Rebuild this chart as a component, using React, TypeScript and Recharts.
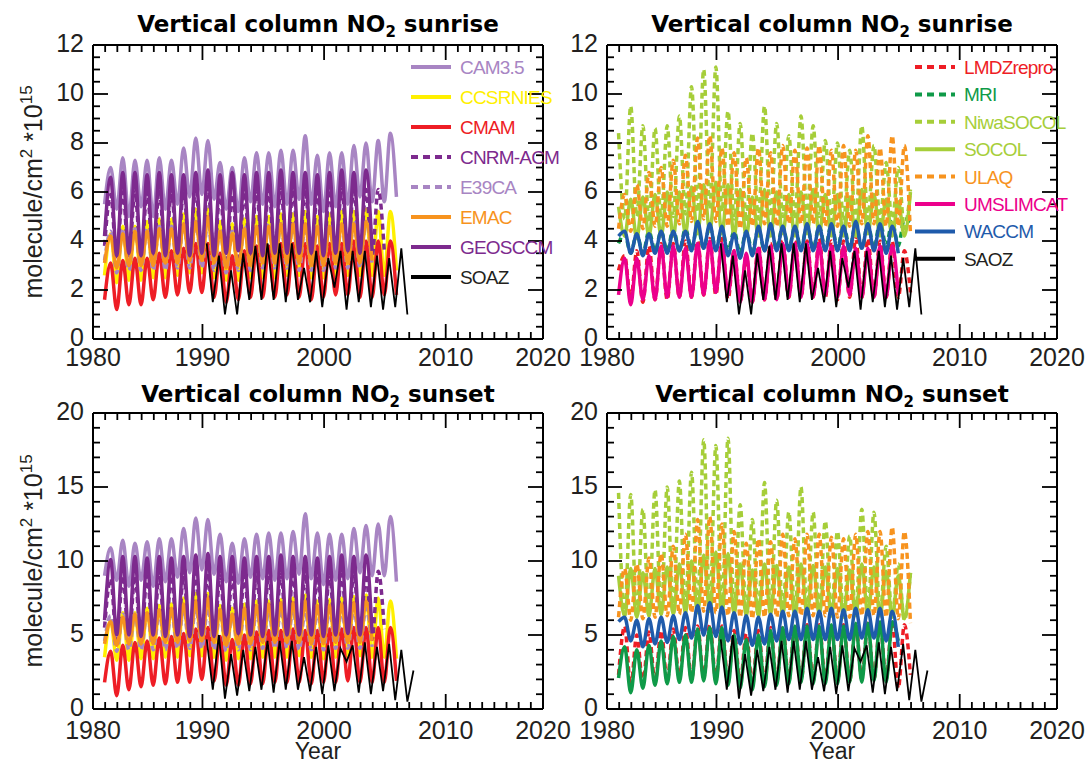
import React from 'react';
import { LineChart, Line, XAxis, YAxis } from 'recharts';

// half-yearly samples: models start 1981.95, SAOZ starts 1990.35
const MODEL_START = 1981.95;
const SAOZ_START = 1990.35;
const STEP = 0.5;

const xMajorTicks = [1981, 1990, 2000, 2010, 2018];
const xTickLabels = ['1980', '1990', '2000', '2010', '2020'];

// ---- sunrise, group 1
const camRise = [5.5, 7.0, 5.3, 7.4, 5.0, 7.3, 5.4, 7.3, 5.0, 7.4, 5.3, 7.3, 5.5, 7.8, 5.8, 8.2, 5.9, 8.1, 5.7, 7.2, 5.3, 7.0, 5.2, 7.4, 5.6, 7.6, 5.5, 7.6, 5.4, 7.7, 5.5, 7.7, 5.7, 8.3, 5.5, 7.5, 5.2, 7.6, 5.4, 7.6, 5.5, 7.9, 5.8, 8.0, 5.6, 8.1, 5.6, 8.4, 5.8];
const ccsrRise = [2.6, 4.3, 2.3, 4.6, 2.4, 4.6, 2.4, 4.8, 2.5, 4.9, 2.5, 4.9, 2.6, 5.1, 2.7, 5.3, 2.7, 5.3, 2.5, 4.8, 2.4, 4.7, 2.4, 4.9, 2.5, 5.0, 2.5, 5.0, 2.5, 5.1, 2.6, 5.1, 2.6, 5.2, 2.5, 5.0, 2.5, 5.1, 2.6, 5.2, 2.6, 5.2, 2.6, 5.3, 2.6, 5.2, 2.6, 5.2, 2.8];
const cmamRise = [1.6, 3.1, 1.2, 3.2, 1.4, 3.3, 1.4, 3.3, 1.6, 3.5, 1.7, 3.6, 1.8, 3.7, 1.9, 3.9, 1.9, 3.9, 1.7, 3.5, 1.5, 3.4, 1.6, 3.6, 1.7, 3.8, 1.7, 3.8, 1.7, 3.9, 1.8, 3.9, 1.7, 3.9, 1.6, 3.8, 1.7, 3.9, 1.8, 3.9, 1.8, 4.0, 1.7, 4.0, 1.7, 4.0, 1.8, 4.0, 1.8];
const cnrmRise = [3.8, 5.9, 3.3, 6.0, 3.3, 6.0, 3.2, 6.0, 3.3, 6.1, 3.3, 6.0, 3.3, 6.1, 3.4, 6.2, 3.4, 6.2, 3.3, 6.0, 3.2, 5.9, 3.3, 6.0, 3.3, 6.1, 3.3, 6.1, 3.4, 6.1, 3.4, 6.1, 3.3, 6.1, 3.3, 6.0, 3.3, 6.1, 3.4, 6.1, 3.4, 6.2, 3.4, 6.1, 3.4, 6.1, 3.6];
const e39Rise = [3.2, 4.4, 2.7, 4.5, 2.8, 4.5, 2.8, 4.5, 2.8, 4.6, 2.8, 4.6, 2.9, 4.7, 2.9, 4.8, 2.9, 4.8, 2.8, 4.5, 2.7, 4.4, 2.8, 4.6, 2.8, 4.6, 2.9, 4.7, 2.9, 4.7, 2.9, 4.7, 2.8, 4.6, 2.8, 4.6, 2.8, 4.7, 2.9, 4.7, 2.9, 4.8, 2.9, 4.8, 3.0];
const emacRise = [3.1, 4.2, 2.9, 4.3, 3.0, 4.4, 3.0, 4.4, 3.0, 4.5, 3.1, 4.5, 3.1, 4.7, 3.2, 4.8, 3.2, 5.0, 3.1, 4.4, 2.9, 4.3, 3.0, 4.5, 3.0, 4.6, 3.1, 4.6, 3.1, 4.7, 3.1, 4.7, 3.1, 4.7, 3.0, 4.6, 3.0, 4.6, 3.1, 4.7, 3.1, 4.7, 3.1, 4.8, 3.2];
const geosRise = [4.2, 6.6, 3.4, 6.8, 3.5, 6.8, 3.4, 6.7, 3.5, 6.8, 3.4, 6.7, 3.5, 6.7, 3.4, 6.8, 3.5, 6.9, 3.4, 6.7, 3.5, 6.8, 3.6, 6.7, 3.5, 6.8, 3.4, 6.8, 3.5, 6.9, 3.5, 6.8, 3.5, 6.8, 3.5, 6.7, 3.4, 6.8, 3.5, 6.9, 3.6, 6.8, 3.5, 6.9, 3.6];
const saozRise = [3.9, 1.5, 3.4, 1.0, 2.8, 1.0, 3.5, 1.6, 3.8, 1.6, 3.9, 1.6, 3.9, 1.5, 3.9, 1.6, 2.9, 1.5, 3.6, 1.3, 3.3, 2.1, 3.6, 1.2, 3.6, 1.5, 3.6, 1.3, 3.4, 1.2, 3.3, 1.3, 3.7, 1.0];

// ---- sunrise, group 2
const lmdzRise = [2.8, 3.4, 1.6, 3.6, 1.5, 3.8, 1.6, 3.9, 1.6, 3.9, 1.7, 4.0, 1.7, 4.0, 1.8, 4.1, 1.8, 4.1, 1.6, 3.6, 1.5, 3.4, 1.5, 3.8, 1.6, 3.9, 1.6, 4.0, 1.7, 4.0, 1.7, 4.0, 1.7, 4.1, 1.7, 4.0, 1.6, 4.0, 1.7, 4.1, 1.7, 4.1, 1.7, 4.0, 1.7, 4.0, 1.7, 3.6, 1.9];
const mriRise = [3.9, 4.3, 3.5, 4.3, 3.5, 4.4, 3.6, 4.4, 3.6, 4.5, 3.6, 4.5, 3.7, 4.6, 3.7, 4.6, 3.7, 4.5, 3.6, 4.4, 3.5, 4.4, 3.6, 4.5, 3.6, 4.6, 3.7, 4.6, 3.7, 4.6, 3.7, 4.6, 3.7, 4.6, 3.7, 4.7, 3.7, 4.7, 3.7, 4.7, 3.7, 4.7, 3.7, 4.8, 3.8, 4.8, 3.8, 4.9, 4.8];
const niwaRise = [8.4, 4.9, 9.5, 5.0, 8.7, 4.8, 8.6, 4.9, 8.7, 5.0, 9.1, 5.1, 10.3, 5.2, 11.0, 5.3, 11.1, 5.2, 9.3, 4.9, 8.8, 4.8, 8.4, 4.9, 9.5, 5.0, 8.8, 5.0, 8.3, 4.9, 9.1, 5.0, 8.7, 5.0, 8.1, 4.8, 8.0, 4.8, 7.7, 4.8, 8.7, 4.9, 7.9, 4.8, 7.2, 4.7, 7.0, 4.5, 6.1];
const socolRise = [5.4, 4.2, 5.7, 4.1, 5.8, 4.2, 5.9, 4.2, 6.0, 4.2, 6.0, 4.3, 6.2, 4.3, 6.3, 4.4, 6.4, 4.3, 6.3, 4.2, 6.1, 4.2, 5.8, 4.2, 6.1, 4.2, 6.0, 4.3, 5.9, 4.2, 6.0, 4.3, 6.1, 4.3, 5.9, 4.2, 5.9, 4.2, 5.8, 4.2, 6.1, 4.3, 5.9, 4.2, 5.7, 4.2, 5.6, 4.2, 6.0];
const ulaqRise = [4.5, 5.9, 4.4, 6.3, 4.5, 6.8, 4.6, 7.0, 4.6, 7.3, 4.7, 7.5, 4.8, 8.2, 4.9, 8.3, 4.8, 7.8, 4.6, 7.6, 4.5, 7.4, 4.6, 7.8, 4.7, 7.6, 4.6, 7.9, 4.7, 7.7, 4.7, 7.8, 4.7, 7.9, 4.6, 7.7, 4.6, 7.9, 4.6, 7.7, 4.7, 8.3, 4.7, 7.8, 4.6, 8.3, 4.6, 7.9, 4.3];
const umslimRise = [1.8, 3.3, 1.4, 3.3, 1.6, 3.4, 1.6, 3.8, 1.7, 3.8, 1.7, 3.7, 1.7, 3.9, 1.8, 4.0, 1.9, 3.9, 1.8, 3.6, 1.5, 3.5, 1.5, 3.7, 1.6, 3.8, 1.6, 3.9, 1.7, 3.9, 1.7, 3.9, 1.7, 3.9, 1.8, 3.8, 1.7, 3.8, 1.8, 3.7, 1.7, 3.7, 1.7, 3.8, 1.7, 3.8, 1.8];
const waccmRise = [4.2, 4.4, 3.5, 4.3, 3.4, 4.3, 3.5, 4.4, 3.5, 4.4, 3.6, 4.4, 3.6, 4.8, 3.7, 4.7, 3.6, 4.6, 3.4, 4.3, 3.3, 4.4, 3.4, 4.6, 3.6, 4.7, 3.6, 4.6, 3.6, 4.6, 3.6, 4.7, 3.6, 4.6, 3.6, 4.7, 3.6, 4.6, 3.6, 4.8, 3.7, 4.7, 3.6, 4.7, 3.5, 4.6, 3.5];

// ---- sunset, group 1
const camSet = [9.0, 10.9, 8.7, 11.4, 8.3, 11.2, 8.7, 11.3, 8.3, 11.5, 8.6, 11.5, 8.9, 12.2, 9.2, 12.9, 9.4, 12.8, 9.1, 11.8, 8.6, 11.2, 8.5, 11.5, 8.9, 11.8, 8.8, 11.9, 8.7, 11.9, 8.8, 12.0, 9.1, 13.2, 8.8, 11.9, 8.4, 11.8, 8.7, 11.8, 8.8, 12.2, 9.2, 12.4, 9.0, 12.5, 9.0, 13.0, 8.6];
const ccsrSet = [3.5, 6.0, 3.3, 6.5, 3.3, 6.5, 3.4, 6.8, 3.4, 7.0, 3.5, 7.1, 3.5, 7.5, 3.6, 7.8, 3.6, 7.8, 3.5, 7.0, 3.3, 6.8, 3.4, 7.1, 3.4, 7.3, 3.5, 7.3, 3.5, 7.4, 3.5, 7.5, 3.6, 7.7, 3.5, 7.3, 3.4, 7.4, 3.5, 7.5, 3.5, 7.6, 3.6, 7.7, 3.5, 7.5, 3.5, 7.3, 3.4];
const cmamSet = [1.8, 3.9, 0.9, 4.3, 1.3, 4.5, 1.5, 4.6, 1.6, 4.8, 1.7, 4.9, 1.8, 5.1, 1.8, 5.4, 2.0, 5.5, 1.9, 4.9, 1.6, 4.7, 1.6, 5.0, 1.7, 5.2, 1.7, 5.3, 1.8, 5.3, 1.8, 5.4, 1.8, 5.3, 1.7, 5.3, 1.8, 5.4, 1.8, 5.4, 1.9, 5.5, 1.8, 5.5, 1.8, 5.5, 1.8, 5.5, 1.9];
const cnrmSet = [5.5, 8.8, 4.6, 9.0, 4.6, 9.0, 4.5, 9.0, 4.6, 9.1, 4.6, 9.0, 4.6, 9.1, 4.7, 9.2, 4.7, 9.2, 4.6, 9.0, 4.5, 8.9, 4.6, 9.0, 4.6, 9.1, 4.6, 9.1, 4.7, 9.1, 4.7, 9.1, 4.6, 9.1, 4.6, 9.0, 4.6, 9.1, 4.7, 9.1, 4.7, 9.2, 4.7, 9.1, 4.7, 9.3, 5.4];
const e39Set = [4.6, 6.3, 3.9, 6.4, 4.0, 6.4, 4.0, 6.5, 4.0, 6.5, 4.0, 6.6, 4.1, 6.7, 4.1, 6.8, 4.1, 6.8, 4.0, 6.5, 3.9, 6.4, 4.0, 6.5, 4.0, 6.6, 4.1, 6.6, 4.1, 6.7, 4.1, 6.7, 4.0, 6.6, 4.0, 6.6, 4.0, 6.7, 4.1, 6.7, 4.1, 6.8, 4.1, 6.8, 4.2];
const emacSet = [4.4, 5.9, 4.3, 6.2, 4.4, 6.4, 4.4, 6.5, 4.4, 6.7, 4.5, 6.8, 4.5, 7.1, 4.6, 7.3, 4.6, 7.5, 4.5, 6.7, 4.3, 6.4, 4.4, 6.8, 4.4, 7.0, 4.5, 7.1, 4.5, 7.2, 4.5, 7.2, 4.5, 7.3, 4.4, 7.0, 4.4, 7.0, 4.5, 7.1, 4.5, 7.2, 4.5, 7.3, 4.6];
const geosSet = [6.0, 10.1, 5.0, 10.3, 5.0, 10.3, 4.9, 10.2, 5.0, 10.3, 4.9, 10.2, 5.0, 10.3, 4.9, 10.4, 5.0, 10.5, 4.9, 10.3, 5.0, 10.3, 5.1, 10.2, 5.0, 10.3, 4.9, 10.3, 5.0, 10.4, 5.0, 10.3, 5.0, 10.3, 5.0, 10.2, 4.9, 10.3, 5.0, 10.4, 5.1, 10.3, 5.0, 10.4, 5.1];
const saozSet = [4.7, 1.3, 5.0, 0.7, 3.7, 0.9, 4.0, 1.2, 4.2, 1.3, 4.6, 1.1, 4.6, 1.3, 4.6, 1.3, 3.5, 1.2, 4.2, 1.0, 4.3, 1.2, 4.1, 3.2, 4.3, 1.1, 4.5, 1.0, 4.2, 1.2, 4.4, 0.6, 4.0, 0.5, 2.6];

// ---- sunset, group 2
const lmdzSet = [2.3, 5.6, 1.5, 5.0, 1.7, 5.2, 1.8, 5.3, 1.9, 5.4, 2.0, 5.5, 2.0, 5.6, 2.1, 5.7, 2.0, 5.6, 1.9, 5.3, 1.7, 5.1, 1.6, 5.3, 1.7, 5.5, 1.8, 5.6, 1.9, 5.7, 1.9, 5.7, 1.9, 5.7, 1.9, 5.7, 1.9, 5.7, 1.9, 5.8, 2.0, 5.8, 2.0, 5.8, 2.0, 5.9, 1.4, 5.7, 2.3];
const mriSet = [2.1, 4.2, 1.1, 4.0, 1.4, 4.3, 1.6, 4.6, 1.7, 4.9, 1.8, 5.0, 1.8, 5.4, 1.9, 5.5, 1.7, 5.5, 1.6, 5.0, 1.4, 4.7, 1.3, 5.0, 1.5, 5.3, 1.6, 5.5, 1.7, 5.6, 1.8, 5.6, 1.7, 5.6, 1.7, 5.7, 1.7, 5.6, 1.8, 5.8, 1.8, 5.8, 1.9, 5.9, 1.8, 5.9, 4.6];
const niwaSet = [14.6, 6.3, 14.5, 6.2, 13.5, 6.3, 14.8, 6.4, 15.0, 6.4, 15.4, 6.5, 16.0, 6.6, 18.2, 6.7, 17.8, 6.6, 18.3, 6.5, 13.8, 6.3, 12.8, 6.2, 15.3, 6.4, 14.1, 6.4, 13.3, 6.3, 15.0, 6.4, 13.3, 6.3, 12.7, 6.3, 12.0, 6.2, 11.7, 6.3, 13.5, 6.4, 13.3, 6.3, 11.0, 6.2, 9.8, 6.0, 9.2];
const socolSet = [9.0, 6.3, 9.5, 6.2, 9.2, 6.3, 9.5, 6.4, 9.6, 6.4, 9.8, 6.5, 10.0, 6.5, 10.4, 6.6, 10.6, 6.5, 10.5, 6.4, 9.8, 6.3, 9.4, 6.3, 9.8, 6.4, 9.7, 6.4, 9.6, 6.3, 9.8, 6.4, 9.7, 6.4, 9.6, 6.3, 9.5, 6.3, 9.4, 6.3, 9.8, 6.4, 9.6, 6.3, 9.3, 6.2, 9.0, 6.1, 9.2];
const ulaqSet = [6.2, 9.5, 6.0, 9.8, 6.1, 10.2, 6.2, 10.5, 6.3, 11.0, 6.4, 11.8, 6.5, 12.8, 6.6, 13.0, 6.5, 12.5, 6.3, 12.0, 6.2, 11.2, 6.1, 11.5, 6.2, 11.3, 6.2, 11.8, 6.3, 11.5, 6.3, 11.8, 6.3, 11.8, 6.3, 11.6, 6.2, 11.5, 6.2, 11.8, 6.3, 12.0, 6.3, 12.0, 6.2, 12.3, 6.1, 12.0, 5.8];
const waccmSet = [5.9, 6.2, 4.6, 6.0, 4.2, 6.1, 4.4, 6.2, 4.5, 6.3, 4.7, 6.5, 4.8, 7.0, 5.0, 7.2, 4.9, 6.9, 4.6, 6.5, 4.4, 6.3, 4.3, 6.2, 4.4, 6.4, 4.6, 6.6, 4.7, 6.6, 4.7, 6.8, 4.7, 6.6, 4.7, 6.8, 4.7, 6.7, 4.7, 6.8, 4.8, 6.7, 4.8, 6.8, 4.6, 6.6, 4.2];

const FONT = "'Liberation Sans', Arial, sans-serif";
const INK = '#231f20';
const W = 1091;
const H = 763;

const C = {
  cam: '#a885c3', ccsr: '#fff000', cmam: '#ee1d25', geos: '#7d2a8e', emac: '#f7931e',
  lmdz: '#ee1d25', mri: '#0f9a48', niwa: '#a6ce39', ulaq: '#f7931e', umslim: '#ec008c',
  waccm: '#1f5bab', obs: '#000000',
};

type Serie = { name: string; color: string; values: number[]; start?: number; dotted?: boolean; thin?: boolean };

const toPoints = (values: number[], start: number) =>
  values.map((y, i) => ({ x: +(start + i * STEP).toFixed(2), y }));

const seq = (from: number, to: number, step: number) =>
  Array.from({ length: Math.round((to - from) / step) + 1 }, (_, i) => +(from + i * step).toFixed(3));

const riseLeft: Serie[] = [
  { name: 'CAM3.5', color: C.cam, values: camRise },
  { name: 'CCSRNIES', color: C.ccsr, values: ccsrRise },
  { name: 'CMAM', color: C.cmam, values: cmamRise },
  { name: 'CNRM-ACM', color: C.geos, values: cnrmRise, dotted: true },
  { name: 'E39CA', color: C.cam, values: e39Rise, dotted: true },
  { name: 'EMAC', color: C.emac, values: emacRise },
  { name: 'GEOSCCM', color: C.geos, values: geosRise },
  { name: 'SOAZ', color: C.obs, values: saozRise, start: SAOZ_START, thin: true },
];

const riseRight: Serie[] = [
  { name: 'LMDZrepro', color: C.lmdz, values: lmdzRise, dotted: true },
  { name: 'MRI', color: C.mri, values: mriRise, dotted: true },
  { name: 'NiwaSOCOL', color: C.niwa, values: niwaRise, dotted: true },
  { name: 'SOCOL', color: C.niwa, values: socolRise },
  { name: 'ULAQ', color: C.ulaq, values: ulaqRise, dotted: true },
  { name: 'UMSLIMCAT', color: C.umslim, values: umslimRise },
  { name: 'WACCM', color: C.waccm, values: waccmRise },
  { name: 'SAOZ', color: C.obs, values: saozRise, start: SAOZ_START, thin: true },
];

const setLeft: Serie[] = [
  { name: 'CAM3.5', color: C.cam, values: camSet },
  { name: 'CCSRNIES', color: C.ccsr, values: ccsrSet },
  { name: 'CMAM', color: C.cmam, values: cmamSet },
  { name: 'CNRM-ACM', color: C.geos, values: cnrmSet, dotted: true },
  { name: 'E39CA', color: C.cam, values: e39Set, dotted: true },
  { name: 'EMAC', color: C.emac, values: emacSet },
  { name: 'GEOSCCM', color: C.geos, values: geosSet },
  { name: 'SOAZ', color: C.obs, values: saozSet, start: SAOZ_START, thin: true },
];

const setRight: Serie[] = [
  { name: 'LMDZrepro', color: C.lmdz, values: lmdzSet, dotted: true },
  { name: 'MRI', color: C.mri, values: mriSet },
  { name: 'NiwaSOCOL', color: C.niwa, values: niwaSet, dotted: true },
  { name: 'SOCOL', color: C.niwa, values: socolSet },
  { name: 'ULAQ', color: C.ulaq, values: ulaqSet, dotted: true },
  { name: 'WACCM', color: C.waccm, values: waccmSet },
  { name: 'SAOZ', color: C.obs, values: saozSet, start: SAOZ_START, thin: true },
];

const XTick = (props: any) => {
  const { x, y, payload, side, labelDy } = props;
  const idx = xMajorTicks.indexOf(payload.value);
  const len = idx >= 0 ? 15 : 7;
  const dir = side === 'bottom' ? -1 : 1;
  return (
    <g>
      <line x1={x} x2={x} y1={y} y2={y + dir * len} stroke="#000" strokeWidth={1.8} />
      {side === 'bottom' && idx >= 0 && (
        <text x={x} y={y + labelDy} textAnchor="middle" fontSize={25} fill={INK} fontFamily={FONT}>
          {xTickLabels[idx]}
        </text>
      )}
    </g>
  );
};

const YTick = (props: any) => {
  const { x, y, payload, side, major } = props;
  const v = payload.value;
  const isMajor = Math.abs(v / major - Math.round(v / major)) < 1e-6;
  const len = isMajor ? 15 : 7;
  const dir = side === 'left' ? 1 : -1;
  return (
    <g>
      <line x1={x} x2={x + dir * len} y1={y} y2={y} stroke="#000" strokeWidth={1.8} />
      {side === 'left' && isMajor && (
        <text x={x - 9} y={y + 7} textAnchor="end" fontSize={25} fill={INK} fontFamily={FONT}>
          {v}
        </text>
      )}
    </g>
  );
};

const xTicks = seq(1981, 2018, 1);
const axisLine = { stroke: '#000', strokeWidth: 2 };

function Panel({ box, yMax, yMajor, yMinor, series, labelDy }: any) {
  const yTicks = seq(0, yMax, yMinor);
  // every axis takes 1px, so the plot box lands exactly on box
  const margin = { top: box.y0 - 1, bottom: H - box.y1 - 1, left: box.x0 - 1, right: W - box.x1 - 1 };
  return (
    <div style={{ position: 'absolute', left: 0, top: 0 }}>
      <LineChart width={W} height={H} margin={margin}>
        <XAxis xAxisId="b" type="number" dataKey="x" domain={[1981, 2018]} allowDataOverflow ticks={xTicks}
          interval={0} height={1} tickSize={0} tickMargin={0} tickLine={false} axisLine={axisLine}
          tick={(p: any) => <XTick {...p} side="bottom" labelDy={labelDy} />} />
        <XAxis xAxisId="t" orientation="top" type="number" dataKey="x" domain={[1981, 2018]} allowDataOverflow ticks={xTicks}
          interval={0} height={1} tickSize={0} tickMargin={0} tickLine={false} axisLine={axisLine}
          tick={(p: any) => <XTick {...p} side="top" />} />
        <YAxis yAxisId="l" type="number" domain={[0, yMax]} allowDataOverflow ticks={yTicks}
          interval={0} width={1} tickSize={0} tickMargin={0} tickLine={false} axisLine={axisLine}
          tick={(p: any) => <YTick {...p} side="left" major={yMajor} />} />
        <YAxis yAxisId="r" orientation="right" type="number" domain={[0, yMax]} allowDataOverflow ticks={yTicks}
          interval={0} width={1} tickSize={0} tickMargin={0} tickLine={false} axisLine={axisLine}
          tick={(p: any) => <YTick {...p} side="right" major={yMajor} />} />
        {series.map((s: Serie) => (
          <Line
            key={s.name}
            xAxisId="b"
            yAxisId="l"
            data={toPoints(s.values, s.start ?? MODEL_START)}
            dataKey="y"
            type={s.thin ? 'linear' : 'monotone'}
            stroke={s.color}
            strokeWidth={s.thin ? 1.8 : 3.5}
            strokeDasharray={s.dotted ? '6 4' : undefined}
            dot={false}
            isAnimationActive={false}
          />
        ))}
      </LineChart>
    </div>
  );
}

function Legend({ items, x, y0, dy }: { items: Serie[]; x: number; y0: number; dy: number }) {
  return (
    <g>
      {items.map((s, i) => {
        const y = y0 + i * dy;
        return (
          <g key={s.name}>
            <line x1={x} x2={x + 40} y1={y} y2={y} stroke={s.color} strokeWidth={4}
              strokeDasharray={s.dotted ? '7 5' : undefined} />
            <text x={x + 49} y={y + 7} fontSize={19} letterSpacing={-0.8} fill={s.color === C.obs ? INK : s.color}
              fontFamily={FONT}>{s.name}</text>
          </g>
        );
      })}
    </g>
  );
}

const Title = ({ x, y, when }: { x: number; y: number; when: string }) => (
  <text x={x} y={y} textAnchor="middle" fontFamily="'DejaVu Sans', sans-serif" fontWeight="bold" fontSize={23} fill="#000">
    Vertical column NO<tspan fontSize={15} dy={5}>2</tspan><tspan dy={-5}>{` ${when}`}</tspan>
  </text>
);

const YLabel = ({ cy }: { cy: number }) => (
  <text transform={`translate(42,${cy}) rotate(-90)`} textAnchor="middle" fontSize={25} fill={INK} fontFamily={FONT}>
    molecule/cm<tspan fontSize={17} dy={-10}>2</tspan><tspan dy={10}> *10</tspan><tspan fontSize={17} dy={-10}>15</tspan>
  </text>
);

const BOX_TL = { x0: 93, x1: 543, y0: 45, y1: 339 };
const BOX_TR = { x0: 607, x1: 1057, y0: 45, y1: 339 };
const BOX_BL = { x0: 93, x1: 543, y0: 413, y1: 709 };
const BOX_BR = { x0: 607, x1: 1057, y0: 413, y1: 709 };

export default function App() {
  return (
    <div style={{ position: 'relative', width: W, height: H, background: '#fff', overflow: 'hidden' }}>
      <style>{'body{margin:0}'}</style>
      <Panel box={BOX_TL} yMax={12} yMajor={2} yMinor={0.5} series={riseLeft} labelDy={27} />
      <Panel box={BOX_TR} yMax={12} yMajor={2} yMinor={0.5} series={riseRight} labelDy={27} />
      <Panel box={BOX_BL} yMax={20} yMajor={5} yMinor={1} series={setLeft} labelDy={30} />
      <Panel box={BOX_BR} yMax={20} yMajor={5} yMinor={1} series={setRight} labelDy={30} />
      <svg width={W} height={H} style={{ position: 'absolute', left: 0, top: 0, pointerEvents: 'none' }}>
        <Title x={318} y={32} when="sunrise" />
        <Title x={832} y={32} when="sunrise" />
        <Title x={318} y={402} when="sunset" />
        <Title x={832} y={402} when="sunset" />
        <YLabel cy={192} />
        <YLabel cy={561} />
        <text x={318} y={759} textAnchor="middle" fontSize={23} fill={INK} fontFamily={FONT}>Year</text>
        <text x={832} y={759} textAnchor="middle" fontSize={23} fill={INK} fontFamily={FONT}>Year</text>
        <Legend items={riseLeft} x={411} y0={67} dy={30} />
        <Legend items={riseRight} x={915} y0={67} dy={27.4} />
      </svg>
    </div>
  );
}
